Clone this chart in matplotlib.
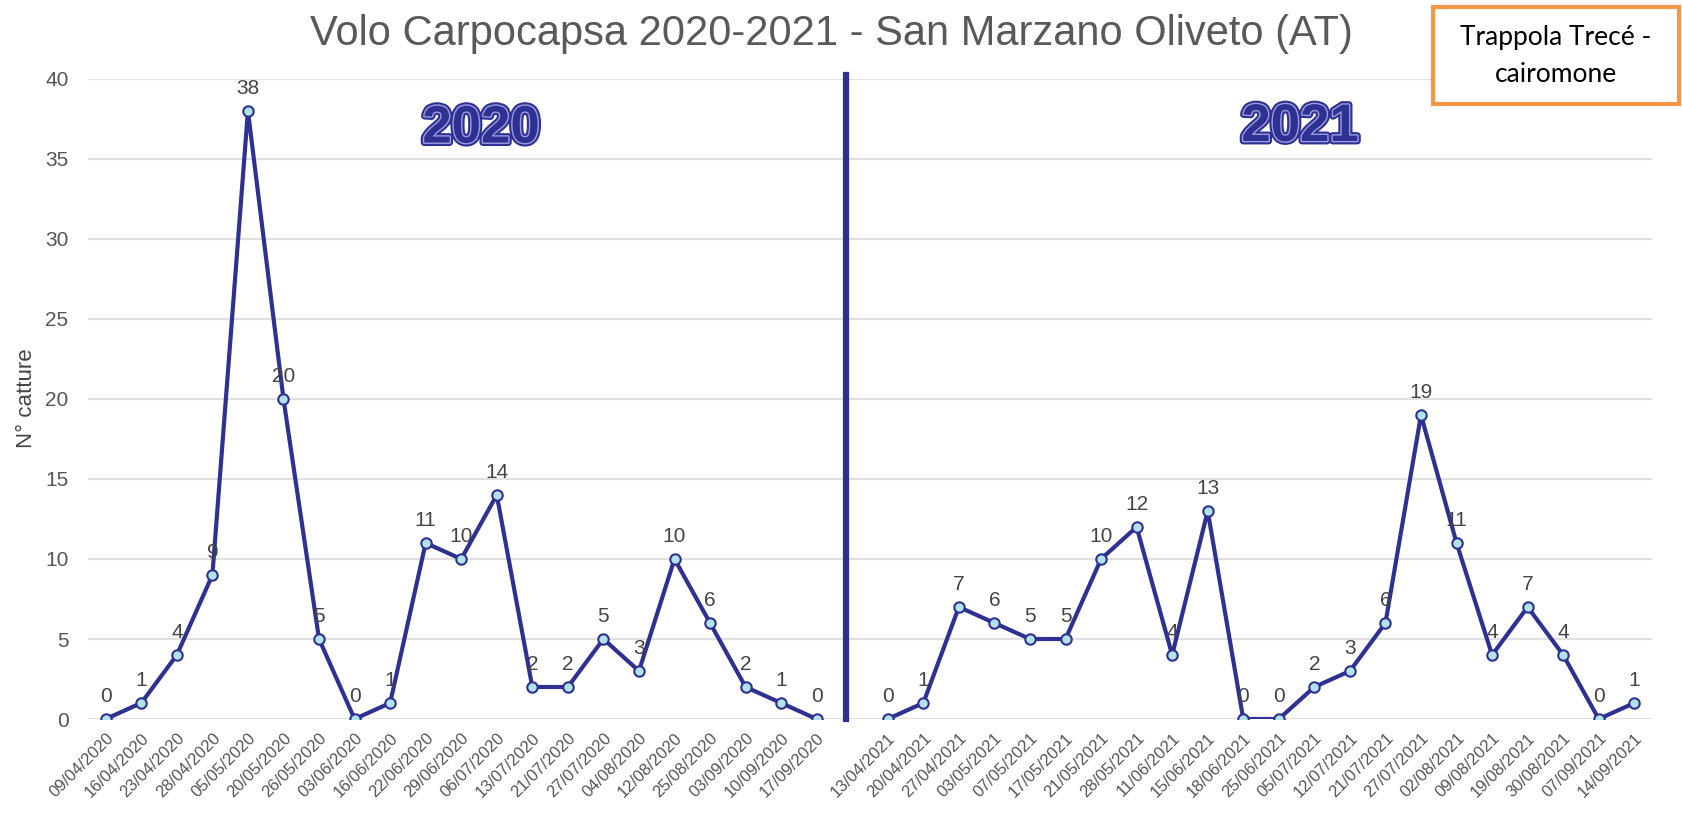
import numpy as np
import matplotlib
matplotlib.use('Agg')
import matplotlib.pyplot as plt
import matplotlib.patheffects as pe
from matplotlib.patches import Rectangle

# data
dates_2020 = ['09/04/2020', '16/04/2020', '23/04/2020', '28/04/2020', '05/05/2020', '20/05/2020',
              '26/05/2020', '03/06/2020', '16/06/2020', '22/06/2020', '29/06/2020', '06/07/2020',
              '13/07/2020', '21/07/2020', '27/07/2020', '04/08/2020', '12/08/2020', '25/08/2020',
              '03/09/2020', '10/09/2020', '17/09/2020']
catture_2020 = [0, 1, 4, 9, 38, 20, 5, 0, 1, 11, 10, 14, 2, 2, 5, 3, 10, 6, 2, 1, 0]

dates_2021 = ['13/04/2021', '20/04/2021', '27/04/2021', '03/05/2021', '07/05/2021', '17/05/2021',
              '21/05/2021', '28/05/2021', '11/06/2021', '15/06/2021', '18/06/2021', '25/06/2021',
              '05/07/2021', '12/07/2021', '21/07/2021', '27/07/2021', '02/08/2021', '09/08/2021',
              '19/08/2021', '30/08/2021', '07/09/2021', '14/09/2021']
catture_2021 = [0, 1, 7, 6, 5, 5, 10, 12, 4, 13, 0, 0, 2, 3, 6, 19, 11, 4, 7, 4, 0, 1]

title = 'Volo Carpocapsa 2020-2021 - San Marzano Oliveto (AT)'
box_text = 'Trappola Trecé -\ncairomone'

plt.rcParams['font.family'] = ['Liberation Sans', 'DejaVu Sans']

blue = '#2e3192'
gray = '#555555'

labels = dates_2020 + [''] + dates_2021
x2020 = np.arange(len(dates_2020))
x2021 = np.arange(len(dates_2021)) + len(dates_2020) + 1

fig = plt.figure(figsize=(16.82, 8.14), dpi=100)
ax = fig.add_axes([0.0523, 0.1167, 0.9299, 0.7863])

for xs, ys in [(x2020, catture_2020), (x2021, catture_2021)]:
    ax.plot(xs, ys, color=blue, lw=3, marker='o', ms=7.5, mfc='#b3e3ea', mec=blue, mew=1.5, zorder=3)
    for xi, yi in zip(xs, ys):
        ax.annotate(str(yi), (xi, yi), xytext=(0, 12), textcoords='offset points',
                    ha='center', va='baseline', fontsize=15, color='#444444')

# separator between the two seasons
ax.plot([20.83, 20.83], [0, 40.25], color=blue, lw=4.5, clip_on=False, zorder=4)

ax.set_xlim(-0.5, len(labels) - 0.5)
ax.set_ylim(0, 40)
ax.set_yticks(np.arange(0, 41, 5))
ax.set_xticks(np.arange(len(labels)))
ax.set_xticklabels(labels, rotation=45, ha='right', va='top', rotation_mode='anchor', fontsize=12, color=gray)
ax.tick_params(axis='y', length=0, labelsize=15, labelcolor=gray, pad=14)
ax.tick_params(axis='x', length=0, pad=8)
ax.grid(axis='y', color='#e0e0e0', lw=1.5)
ax.set_axisbelow(True)
for s in ax.spines.values():
    s.set_visible(False)

year_fx = [pe.Stroke(linewidth=5, foreground=blue), pe.Stroke(linewidth=2, foreground='#9a9be0'), pe.Normal()]
ax.text(10.56, 36.9, '2020', ha='center', va='center', fontsize=38, fontweight='bold', color=blue, path_effects=year_fx)
ax.text(33.6, 37.0, '2021', ha='center', va='center', fontsize=38, fontweight='bold', color=blue, path_effects=year_fx)

fig.text(831 / 1682, 1 - 34 / 814, title, ha='center', va='center', fontsize=30, color='#595959')
fig.text(27 / 1682, 1 - 398 / 814, 'N° catture', rotation=90, ha='center', va='center', fontsize=16, color='#444444')

fig.patches.append(Rectangle((1433 / 1682, 1 - 104 / 814), 246 / 1682, 97 / 814, transform=fig.transFigure,
                             facecolor='white', edgecolor='#f79646', lw=3))
fig.text(1556 / 1682, 1 - 56 / 814, box_text, ha='center', va='center', fontsize=19, color='black',
         family=['Lato', 'DejaVu Sans'], linespacing=1.6)

fig.savefig('out.png', dpi=100)
